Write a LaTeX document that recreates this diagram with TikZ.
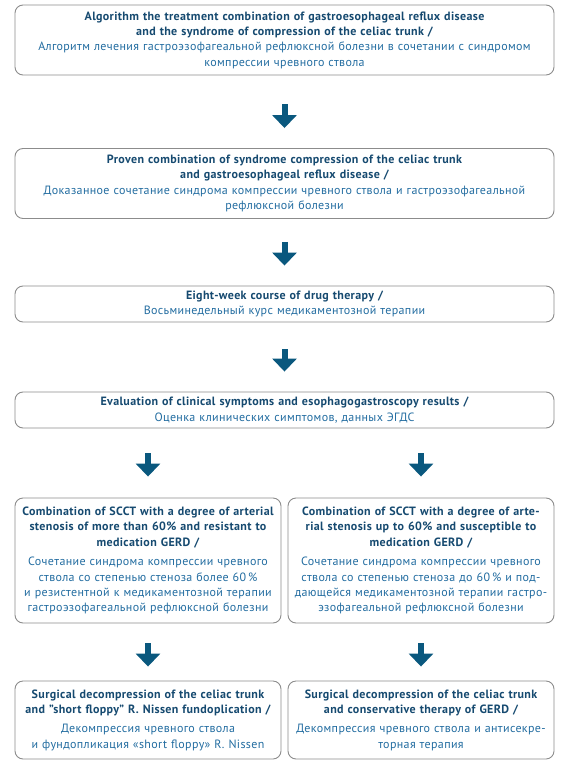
\documentclass[tikz,border=0pt]{standalone}
\usepackage{fontspec}
\setmainfont[LetterSpace=3,WordSpace=1.2]{PT Sans}
\usetikzlibrary{arrows.meta,calc}
\definecolor{cen}{RGB}{22,74,112}
\definecolor{cru}{RGB}{34,108,160}
\definecolor{carr}{RGB}{10,88,126}
\definecolor{cframe}{RGB}{140,140,140}
\newcommand{\eng}[1]{{\bfseries\color{cen}#1}}
\newcommand{\rus}[1]{{\color{cru}#1}}

\begin{document}
\begin{tikzpicture}[x=1pt,y=-1pt,
   box/.style={draw=cframe, line width=0.9pt, rounded corners=8pt, align=center,
     inner sep=0pt, font=\fontsize{12}{15.3}\selectfont},
   wide/.style={box, text width=539pt},
   half/.style={box, text width=266pt},
   bigarrow/.style={carr, line width=6pt,
     -{Triangle[width=24pt,length=13pt]}}]
  \useasboundingbox (0,0) rectangle (567,768);
  \node[wide, minimum height=70pt] (alg) at (284.5,40)
    {\eng{Algorithm the treatment combination of gastroesophageal reflux disease\\
      and the syndrome of compression of the celiac trunk /}\\
     \rus{Алгоритм лечения гастроэзофагеальной рефлюксной болезни в сочетании с синдромом\\
      компрессии чревного ствола}};
  \node[wide, minimum height=70pt] (proven) at (284.5,183.5)
    {\eng{Proven combination of syndrome compression of the celiac trunk\\
      and gastroesophageal reflux disease /}\\
     \rus{Доказанное сочетание синдрома компрессии чревного ствола и гастроэзофагеальной\\
      рефлюксной болезни}};
  \node[wide, minimum height=36pt] (drug) at (284.5,304)
    {\eng{Eight-week course of drug therapy /}\\
     \rus{Восьминедельный курс медикаментозной терапии}};
  \node[wide, minimum height=36pt] (eval) at (284.5,410)
    {\eng{Evaluation of clinical symptoms and esophagogastroscopy results /}\\
     \rus{Оценка клинических симптомов, данных ЭГДС}};
  \node[half, minimum height=125pt] (resist) at (148,560.5)
    {\eng{Combination of SCCT with a degree of arterial\\
      stenosis of more than 60\% and resistant to\\ medication GERD /}\\[4.5pt]
     \rus{Сочетание синдрома компрессии чревного\\
      ствола со степенью стеноза более 60\,\%\\
      и резистентной к медикаментозной терапии\\
      гастроэзофагеальной рефлюксной болезни}};
  \node[half, minimum height=125pt] (suscept) at (421,560.5)
    {\eng{Combination of SCCT with a degree of arte-\\
      rial stenosis up to 60\% and susceptible to\\ medication GERD /}\\[4.5pt]
     \rus{Сочетание синдрома компрессии чревного\\
      ствола со степенью стеноза до 60\,\% и под-\\
      дающейся медикаментозной терапии гастро-\\
      эзофагеальной рефлюксной болезни}};
  \node[half, minimum height=78pt] (nissen) at (148,720)
    {\eng{Surgical decompression of the celiac trunk\\
      and "short floppy" R. Nissen fundoplication /}\\[4pt]
     \rus{Декомпрессия чревного ствола\\
      и фундопликация «short floppy» R. Nissen}};
  \node[half, minimum height=78pt] (conserv) at (421,720)
    {\eng{Surgical decompression of the celiac trunk\\
      and conservative therapy of GERD /}\\[4pt]
     \rus{Декомпрессия чревного ствола и антисекре-\\
      торная терапия}};
  % arrows between the steps
  \draw[bigarrow, shorten <=29pt, shorten >=20pt] (alg) -- (proven);
  \draw[bigarrow, shorten <=23pt, shorten >=20pt] (proven) -- (drug);
  \draw[bigarrow, shorten <=27pt, shorten >=20pt] (drug) -- (eval);
  \draw[bigarrow, shorten <=25pt, shorten >=21pt] (eval.south -| resist.north) -- (resist.north);
  \draw[bigarrow, shorten <=25pt, shorten >=21pt] (eval.south -| suscept.north) -- (suscept.north);
  \draw[bigarrow, shorten <=20pt, shorten >=14pt] (resist) -- (nissen);
  \draw[bigarrow, shorten <=20pt, shorten >=14pt] (suscept) -- (conserv);
\end{tikzpicture}
\end{document}
